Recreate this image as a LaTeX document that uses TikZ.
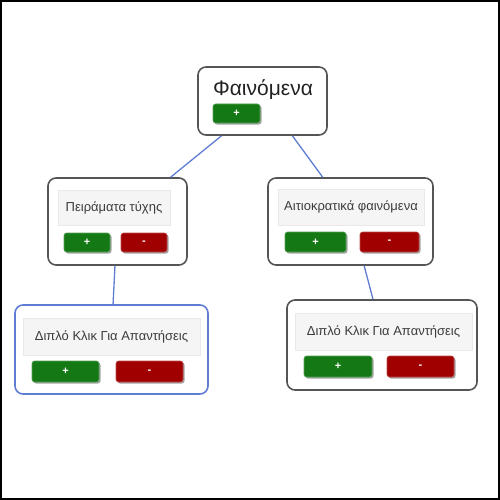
\documentclass[tikz,border=0pt]{standalone}
\usepackage{fontspec}
\setmainfont{Liberation Sans}
\usetikzlibrary{calc,shadows}
\definecolor{cardgray}{RGB}{85,85,85}
\definecolor{btngreen}{RGB}{20,120,20}
\definecolor{btnred}{RGB}{160,0,0}
\definecolor{linkblue}{RGB}{95,125,210}
\definecolor{labelfill}{RGB}{245,245,245}
\definecolor{labeltext}{RGB}{60,60,60}
\definecolor{titletext}{RGB}{35,35,35}
\tikzset{
  card/.style={draw=cardgray, line width=1.6pt, rounded corners=8pt, fill=white, inner sep=0pt},
  selcard/.style={card, draw=linkblue},
  labelbox/.style={fill=labelfill, draw=labelfill!95!black, line width=0.3pt, inner sep=0pt, text=labeltext, font=\fontsize{13}{15}\selectfont},
  btn/.style={rounded corners=2.5pt, inner sep=0pt, text=white, font=\bfseries\fontsize{11}{12}\selectfont,
    drop shadow={shadow xshift=1.5pt, shadow yshift=-1.5pt, fill=black!35, opacity=1}},
  plusbtn/.style={btn, fill=btngreen, draw=btngreen!70!white, line width=0.6pt},
  minusbtn/.style={btn, fill=btnred, draw=btnred!70!white, line width=0.6pt},
  link/.style={draw=linkblue, line width=1.3pt},
  title/.style={text=titletext, font=\fontsize{21}{24}\selectfont, inner sep=0pt}
}
\begin{document}
\begin{tikzpicture}[x=1pt,y=-1pt]
\useasboundingbox (0,0) rectangle (500,500);
\draw[line width=1.6pt, black] (0.8,0.8) rectangle (499.2,499.2);

% cards
\node[card, minimum width=129pt, minimum height=68pt] (top) at (262.5,101) {};
\node[card, minimum width=139pt, minimum height=87pt] (pm) at (117.5,221.5) {};
\node[card, minimum width=165pt, minimum height=87pt] (af) at (350.5,221.5) {};
\node[selcard, minimum width=193pt, minimum height=89pt] (bl) at (111.5,349.5) {};
\node[card, minimum width=190pt, minimum height=90pt] (br) at (382,345) {};

% connectors
\draw[link] ($(top.south west)!0.186!(top.south east)$) -- ($(pm.north west)!0.878!(pm.north east)$);
\draw[link] ($(top.south west)!0.729!(top.south east)$) -- ($(af.north west)!0.333!(af.north east)$);
\draw[link] ($(pm.south west)!0.482!(pm.south east)$) -- ($(bl.north west)!0.508!(bl.north east)$);
\draw[link] ($(af.south west)!0.582!(af.south east)$) -- ($(br.north west)!0.453!(br.north east)$);

% top card content
\node[title] (toptitle) at (263,89.5) {Φαινόμενα};
\node[plusbtn, minimum width=47pt, minimum height=19pt] (topplus) at (236.5,113.5) {+};

% left middle card
\node[labelbox, minimum width=112pt, minimum height=35pt] (pmlabel) at (114,207.5) {Πειράματα τύχης};
\node[plusbtn, minimum width=46pt, minimum height=19pt] (pmplus) at (87,242.5) {+};
\node[minusbtn, minimum width=46pt, minimum height=19pt] (pmminus) at (144,242.5) {-};

% right middle card
\node[labelbox, minimum width=146pt, minimum height=36pt] (aflabel) at (351,207) {Αιτιοκρατικά φαινόμενα};
\node[plusbtn, minimum width=61pt, minimum height=20pt] (afplus) at (315.5,242) {+};
\node[minusbtn, minimum width=59pt, minimum height=20pt] (afminus) at (389.5,242) {-};

% bottom left card
\node[labelbox, minimum width=177pt, minimum height=37pt] (bllabel) at (111.5,336.5) {Διπλό Κλικ Για Απαντήσεις};
\node[plusbtn, minimum width=67pt, minimum height=21pt] (blplus) at (65.5,371.5) {+};
\node[minusbtn, minimum width=67pt, minimum height=21pt] (blminus) at (149.5,371.5) {-};

% bottom right card
\node[labelbox, minimum width=177pt, minimum height=37pt] (brlabel) at (383.5,331.5) {Διπλό Κλικ Για Απαντήσεις};
\node[plusbtn, minimum width=68pt, minimum height=21pt] (brplus) at (338,366.5) {+};
\node[minusbtn, minimum width=67pt, minimum height=21pt] (brminus) at (420.5,366.5) {-};
\end{tikzpicture}
\end{document}
